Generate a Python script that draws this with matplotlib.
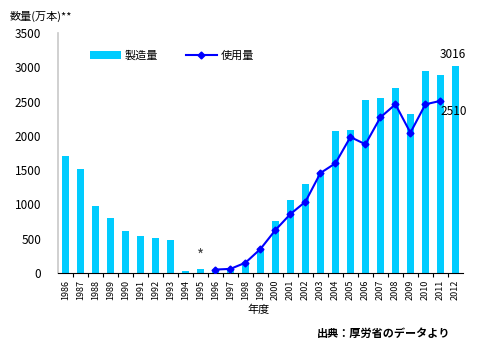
import matplotlib
matplotlib.use("Agg")
import matplotlib.pyplot as plt

plt.rcParams['font.family'] = ['Noto Sans CJK JP', 'DejaVu Sans']

years = [str(y) for y in range(1986, 2013)]
production = [1711, 1517, 973, 797, 608, 540, 506, 481, 25, 63, 30, 60, 150,
              330, 758, 1064, 1302, 1458, 2070, 2085, 2523, 2552, 2698, 2319,
              2946, 2892, 3016]
usage_years = [str(y) for y in range(1996, 2012)]
usage = [50, 60, 150, 350, 627, 860, 1040, 1458, 1600, 1983, 1877, 2270,
         2460, 2046, 2460, 2510]

fig = plt.figure(figsize=(4.98, 3.6), dpi=100)
ax = fig.add_axes([0.1165, 0.2417, 0.813, 0.6666])

x = list(range(len(years)))
bars = ax.bar(x, production, width=0.42, color='#00CCFF', label='製造量', zorder=2)
ux = [years.index(y) for y in usage_years]
line, = ax.plot(ux, usage, color='#0000FF', marker='D', markersize=3.5,
                linewidth=1.5, label='使用量', zorder=3)

ax.set_xlim(-0.5, 26.5)
ax.set_ylim(0, 3500)
ax.set_yticks(range(0, 3501, 500))
ax.tick_params(axis='y', length=0, labelsize=8.5, pad=12)
ax.set_xticks([i + 0.5 for i in x[:-1]], minor=False)
ax.set_xticklabels([])
ax.set_xticks(x, minor=True)
ax.set_xticklabels(years, minor=True, rotation=90, fontsize=6.5)
ax.tick_params(axis='x', which='major', length=3, color='black')
ax.tick_params(axis='x', which='minor', length=0, pad=5)

for s in ['top', 'right']:
    ax.spines[s].set_visible(False)
ax.spines['left'].set_color('#C8C8C8')
ax.spines['left'].set_linewidth(1.2)
ax.spines['bottom'].set_color('black')

ax.text(x[-1] - 0.2, production[-1] + 70, str(production[-1]), ha='center',
        va='bottom', fontsize=8.5)
ax.text(ux[-1] + 0.9, usage[-1] - 60, str(usage[-1]), ha='center',
        va='top', fontsize=8.5)
ax.text(years.index('1995'), production[years.index('1995')] + 50, '*',
        ha='center', va='bottom', fontsize=11, color='#444444')

ax.legend([bars, line], ['製造量', '使用量'], loc='upper left',
          bbox_to_anchor=(0.055, 0.97), ncol=2, frameon=False,
          fontsize=8, handlelength=2.8, columnspacing=2.5, handletextpad=0.3)

fig.text(0.02, 0.955, '数量(万本)**', fontsize=8, ha='left', va='center')
fig.text(0.52, 0.14, '年度', fontsize=8, ha='center', va='center')
fig.text(0.905, 0.075, '出典：厚労省のデータより', fontsize=8, fontweight='bold',
         ha='right', va='center')

fig.savefig('out.png', dpi=100)
